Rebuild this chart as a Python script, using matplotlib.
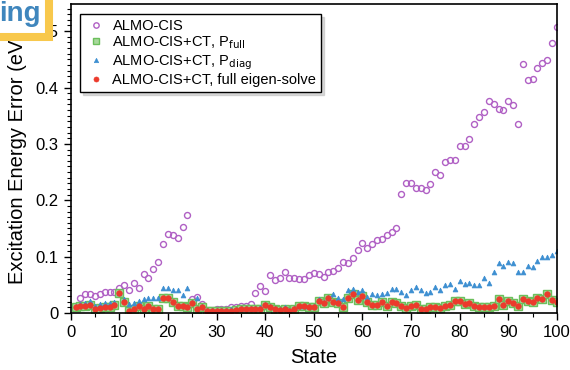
import matplotlib.pyplot as plt
import numpy as np
from matplotlib.patches import Rectangle
from matplotlib.ticker import MultipleLocator

plt.rcParams['font.family'] = ['Liberation Sans', 'DejaVu Sans']

states = np.arange(1, 101)

almo_cis = [
    0.012, 0.027, 0.033, 0.034, 0.031, 0.033, 0.037, 0.037, 0.037, 0.045,
    0.049, 0.040, 0.053, 0.044, 0.070, 0.062, 0.078, 0.090, 0.123, 0.141,
    0.139, 0.133, 0.153, 0.174, 0.024, 0.029, 0.016, 0.005, 0.006, 0.008,
    0.007, 0.008, 0.011, 0.011, 0.013, 0.013, 0.016, 0.035, 0.048, 0.039,
    0.067, 0.058, 0.063, 0.073, 0.063, 0.063, 0.060, 0.060, 0.068, 0.071,
    0.069, 0.064, 0.072, 0.074, 0.079, 0.090, 0.088, 0.098, 0.112, 0.125,
    0.115, 0.123, 0.129, 0.132, 0.138, 0.143, 0.151, 0.211, 0.230, 0.230,
    0.221, 0.222, 0.219, 0.228, 0.251, 0.245, 0.267, 0.272, 0.272, 0.296,
    0.296, 0.308, 0.335, 0.347, 0.357, 0.376, 0.370, 0.362, 0.360, 0.376,
    0.369, 0.335, 0.441, 0.414, 0.415, 0.434, 0.444, 0.448, 0.479, 0.507,
]

p_full = [
    0.011, 0.012, 0.013, 0.015, 0.007, 0.009, 0.010, 0.010, 0.014, 0.035,
    0.019, 0.004, 0.007, 0.012, 0.008, 0.013, 0.007, 0.007, 0.027, 0.027,
    0.019, 0.013, 0.013, 0.010, 0.017, 0.008, 0.010, 0.004, 0.003, 0.004,
    0.004, 0.004, 0.004, 0.005, 0.007, 0.007, 0.007, 0.007, 0.008, 0.014,
    0.010, 0.007, 0.005, 0.008, 0.004, 0.007, 0.012, 0.012, 0.011, 0.011,
    0.021, 0.018, 0.027, 0.020, 0.017, 0.011, 0.026, 0.033, 0.023, 0.031,
    0.019, 0.015, 0.015, 0.019, 0.013, 0.019, 0.018, 0.013, 0.009, 0.012,
    0.014, 0.007, 0.008, 0.010, 0.011, 0.009, 0.012, 0.014, 0.022, 0.022,
    0.016, 0.018, 0.012, 0.011, 0.011, 0.011, 0.012, 0.025, 0.015, 0.022,
    0.017, 0.013, 0.025, 0.022, 0.019, 0.027, 0.024, 0.033, 0.023, 0.019,
]

p_diag = [
    0.013, 0.016, 0.018, 0.021, 0.013, 0.016, 0.018, 0.018, 0.020, 0.035,
    0.025, 0.016, 0.018, 0.021, 0.024, 0.026, 0.027, 0.026, 0.044, 0.044,
    0.040, 0.040, 0.032, 0.045, 0.019, 0.027, 0.012, 0.006, 0.005, 0.006,
    0.006, 0.006, 0.007, 0.007, 0.009, 0.009, 0.009, 0.009, 0.010, 0.016,
    0.013, 0.009, 0.007, 0.010, 0.006, 0.009, 0.013, 0.013, 0.013, 0.013,
    0.024, 0.020, 0.028, 0.033, 0.027, 0.024, 0.040, 0.042, 0.037, 0.040,
    0.029, 0.033, 0.032, 0.033, 0.035, 0.043, 0.043, 0.038, 0.032, 0.041,
    0.046, 0.040, 0.036, 0.038, 0.047, 0.040, 0.050, 0.052, 0.043, 0.057,
    0.051, 0.054, 0.050, 0.050, 0.062, 0.054, 0.072, 0.088, 0.084, 0.090,
    0.088, 0.072, 0.072, 0.083, 0.082, 0.093, 0.099, 0.099, 0.103, 0.110,
]

full_eig = p_full

fig = plt.figure(figsize=(5.7, 3.7), dpi=100)
ax = fig.add_axes([0.124, 0.154, 0.853, 0.835])

ax.plot(states, almo_cis, 'o', ls='none', ms=4.3, mfc='none', mec='#b060c4', mew=1.0,
        label='ALMO-CIS')
ax.plot(states, p_full, 's', ls='none', ms=5.5, mfc='#a8d89c', mec='#6cbf5c', mew=1.0,
        label=r'ALMO-CIS+CT, P$_{\mathrm{full}}$')
ax.plot(states, p_diag, '^', ls='none', ms=3.5, mfc='#3d8fd1', mec='#3d8fd1', mew=0.5,
        label=r'ALMO-CIS+CT, P$_{\mathrm{diag}}$')
ax.plot(states, full_eig, 'o', ls='none', ms=4, mfc='#ec3a2c', mec='#ec3a2c', mew=0.5,
        label='ALMO-CIS+CT, full eigen-solve')

ax.set_xlim(0, 100)
ax.set_ylim(0, 0.548)
ax.xaxis.set_major_locator(MultipleLocator(10))
ax.xaxis.set_minor_locator(MultipleLocator(5))
ax.yaxis.set_minor_locator(MultipleLocator(0.01))
ax.set_yticks([0, 0.1, 0.2, 0.3, 0.4, 0.5])
ax.set_yticklabels(['0', '0.1', '0.2', '0.3', '0.4', '0.5'])
ax.tick_params(which='major', direction='out', length=5, width=1, labelsize=12)
ax.tick_params(which='minor', direction='out', length=3, width=0.8)
ax.tick_params(top=False, right=False)
for s in ax.spines.values():
    s.set_linewidth(1.2)

ax.set_xlabel('State', fontsize=14.5, labelpad=6)
ax.set_ylabel('Excitation Energy Error (eV)', fontsize=14.5, labelpad=6)

leg = ax.legend(loc='upper left', fontsize=10.5, numpoints=1, frameon=True, fancybox=False,
                shadow={'color': '0.75', 'alpha': 0.6}, handletextpad=0.3, borderpad=0.3,
                labelspacing=0.12, markerscale=0.9, handlelength=1.6,
                bbox_to_anchor=(0.005, 0.99))
leg.get_frame().set_edgecolor('black')
leg.get_frame().set_linewidth(1.0)

# logo fragment in the corner
fig.patches.append(Rectangle((-0.05, 1 - 37 / 370), 0.05 + 49 / 570, 0.2,
                             transform=fig.transFigure, facecolor='white',
                             edgecolor='#f8c84c', lw=5.8, zorder=5))
fig.text(-0.002, 1 - 21 / 370, 'ing', color='#3f86bd', fontsize=20, fontweight='bold',
         ha='left', va='baseline', zorder=6)

fig.savefig('out.png', dpi=100)
